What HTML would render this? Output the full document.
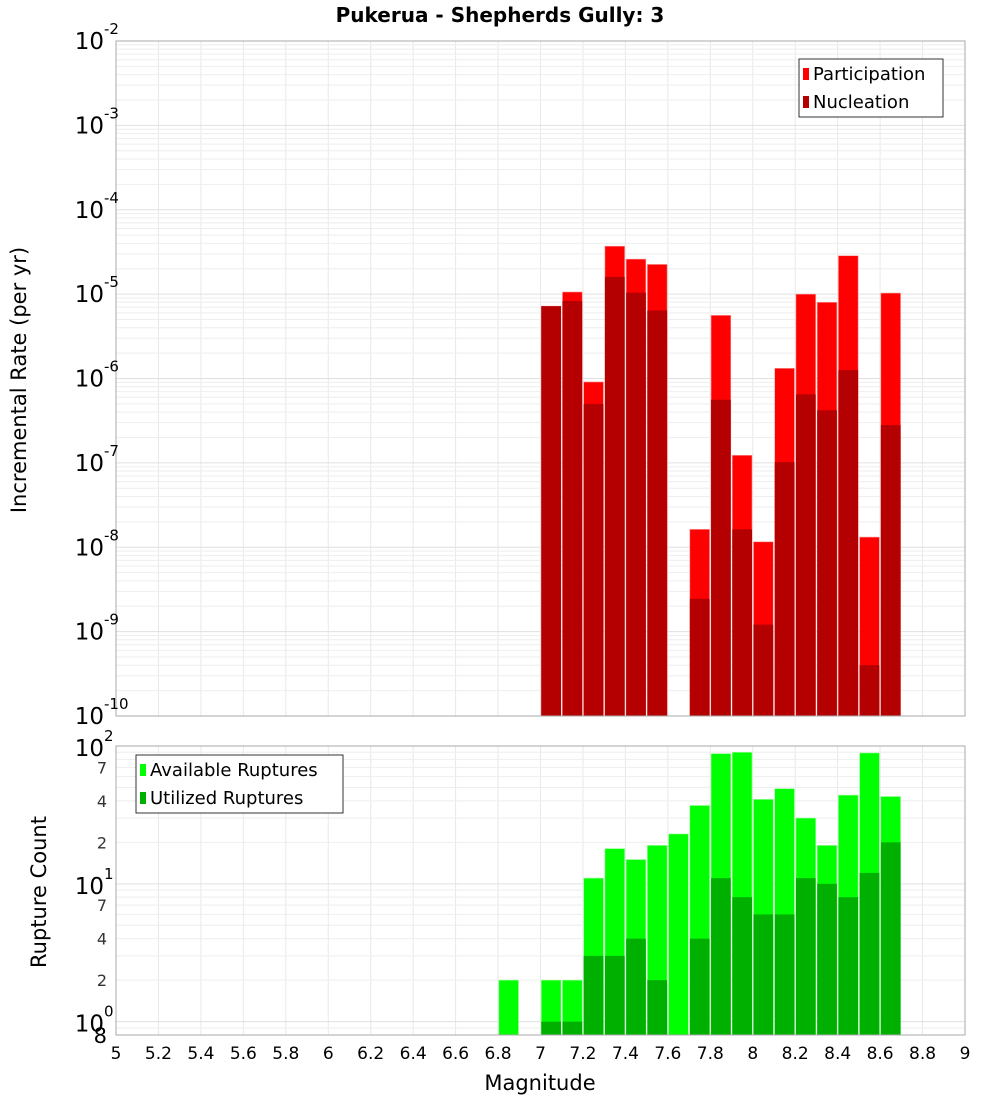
<!DOCTYPE html>
<html><head><meta charset="utf-8"><style>
body{margin:0;background:#fff;font-family:"Liberation Sans","DejaVu Sans",sans-serif}
svg text{font-family:"DejaVu Sans","Liberation Sans",sans-serif}
</style></head><body>
<svg id="c" width="1000" height="1100" xmlns="http://www.w3.org/2000/svg"></svg>
<script>
const mags=[7.0,7.1,7.2,7.3,7.4,7.5,7.6,7.7,7.8,7.9,8.0,8.1,8.2,8.3,8.4,8.5,8.6];
const participation=[7.2e-6,1.06e-5,9.1e-7,3.7e-5,2.6e-5,2.25e-5,0,1.63e-8,5.6e-6,1.23e-7,1.16e-8,1.32e-6,1.0e-5,8.0e-6,2.85e-5,1.32e-8,1.03e-5];
const nucleation=[7.2e-6,8.3e-6,5.0e-7,1.6e-5,1.04e-5,6.4e-6,0,2.45e-9,5.6e-7,1.63e-8,1.21e-9,1.02e-7,6.5e-7,4.2e-7,1.26e-6,4.0e-10,2.8e-7];
const countMags=[6.8,6.9,7.0,7.1,7.2,7.3,7.4,7.5,7.6,7.7,7.8,7.9,8.0,8.1,8.2,8.3,8.4,8.5,8.6];
const available=[2,0,2,2,11,18,15,19,23,37,88,90,41,49,30,19,44,89,43];
const utilized=[0,0,1,1,3,3,4,2,0,4,11,8,6,6,11,10,8,12,20];
const xTicks=["5","5.2","5.4","5.6","5.8","6","6.2","6.4","6.6","6.8","7","7.2","7.4","7.6","7.8","8","8.2","8.4","8.6","8.8","9"];

const svg=document.getElementById('c');const NS='http://www.w3.org/2000/svg';
function el(t,a,p){const e=document.createElementNS(NS,t);for(const k in a)e.setAttribute(k,a[k]);(p||svg).appendChild(e);return e;}
const L=116,R=965,T1=41,B1=716,T2=746,B2=1035;
const x=m=>L+(m-5)/4*(R-L);
const y1=v=>B1-(Math.log10(v)+10)/8*(B1-T1);
const lo2=Math.log10(0.8),hi2=2;
const y2=v=>B2-(Math.log10(v)-lo2)/(hi2-lo2)*(B2-T2);

// title
let t=el('text',{x:500,y:22,'text-anchor':'middle','font-size':20,'font-weight':'bold'});t.textContent='Pukerua - Shepherds Gully: 3';


function grid(T,B,yf,minV,maxV,name){
  const g=el('g',{});
  el('rect',{x:L,y:T,width:R-L,height:B-T,fill:'#fff'},g);
  for(let i=0;i<xTicks.length;i++){const xx=x(5+i*0.2);el('line',{x1:xx,x2:xx,y1:T,y2:B,stroke:'#e8e8e8'},g);}
  for(let e=Math.floor(Math.log10(minV));e<=Math.log10(maxV);e++){for(let k=1;k<10;k++){const v=k*Math.pow(10,e);if(v<minV||v>maxV)continue;const yy=yf(v);el('line',{x1:L,x2:R,y1:yy,y2:yy,stroke:k==1?'#e0e0e0':'#eeeeee'},g);}}
  return g;
}
grid(T1,B1,y1,1e-10,1e-2,'top-plot-grid');
grid(T2,B2,y2,0.8,100,'bottom-plot-grid');

const bw=(x(5.1)-x(5))-1.5;
const gb1=el('g',{});
mags.forEach((m,i)=>{
  if(participation[i]>0){const r=el('rect',{x:x(m)+0.75,y:y1(participation[i]),width:bw,height:B1-y1(participation[i]),fill:'#ff0000',stroke:'#ff9a9a','stroke-width':0.6},gb1);
  }
  if(nucleation[i]>0){const r=el('rect',{x:x(m)+0.75,y:y1(nucleation[i]),width:bw,height:B1-y1(nucleation[i]),fill:'#b40000'},gb1);
  }
});
const gb2=el('g',{});
countMags.forEach((m,i)=>{
  if(available[i]>0){const r=el('rect',{x:x(m)+0.75,y:y2(available[i]),width:bw,height:B2-y2(available[i]),fill:'#00ff00',stroke:'#9aff9a','stroke-width':0.6},gb2);
  }
  if(utilized[i]>0){const r=el('rect',{x:x(m)+0.75,y:y2(utilized[i]),width:bw,height:B2-y2(utilized[i]),fill:'#00b000'},gb2);
  }
});
el('rect',{x:L,y:T1,width:R-L,height:B1-T1,fill:'none',stroke:'#aaa'});
el('rect',{x:L,y:T2,width:R-L,height:B2-T2,fill:'none',stroke:'#aaa'});

// top y ticks
for(let e=-10;e<=-2;e++){const yy=y1(Math.pow(10,e));
  const tt=el('text',{x:104,y:yy+8,'text-anchor':'end','font-size':23});tt.textContent='10';
  
  const s=el('text',{x:104,y:yy-7,'font-size':15});s.textContent=String(e);
  }
// bottom y ticks
[[100,'2'],[10,'1'],[1,'0']].forEach(([v,e])=>{const yy=y2(v);
  const tt=el('text',{x:104,y:yy+10,'text-anchor':'end','font-size':23});tt.textContent='10';
  
  const s=el('text',{x:104,y:yy-5,'font-size':15});s.textContent=e;
  });
[70,40,20,7,4,2].forEach(v=>{const tt=el('text',{x:107,y:y2(v)+6,'text-anchor':'end','font-size':16,fill:'#333'});tt.textContent=String(v).replace(/0$/,'');
  });
let t8=el('text',{x:107,y:y2(0.8)+8,'text-anchor':'end','font-size':21});t8.textContent='8';


// x ticks
xTicks.forEach((s,i)=>{const tt=el('text',{x:x(5+i*0.2),y:1059,'text-anchor':'middle','font-size':17});tt.textContent=s;
  });
let xa=el('text',{x:540,y:1090,'text-anchor':'middle','font-size':21});xa.textContent='Magnitude';

let ya=el('text',{x:0,y:0,'text-anchor':'middle','font-size':21,transform:'translate(26,380) rotate(-90)'});ya.textContent='Incremental Rate (per yr)';

let yb=el('text',{x:0,y:0,'text-anchor':'middle','font-size':21,transform:'translate(46,892) rotate(-90)'});yb.textContent='Rupture Count';


function legend(x0,y0,w,items,name){const g=el('g',{});
  el('rect',{x:x0,y:y0,width:w,height:58,fill:'#fff',stroke:'#333'},g);
  items.forEach(([c,s],i)=>{el('rect',{x:x0+4,y:y0+9+i*28,width:6,height:12,fill:c},g);
    const tt=el('text',{x:x0+14,y:y0+21+i*28,'font-size':18},g);tt.textContent=s;});}
legend(799,59,144,[['#ff0000','Participation'],['#b40000','Nucleation']],'rate-legend');
legend(136,755,207,[['#00ff00','Available Ruptures'],['#00b000','Utilized Ruptures']],'count-legend');
</script>
</body></html>
